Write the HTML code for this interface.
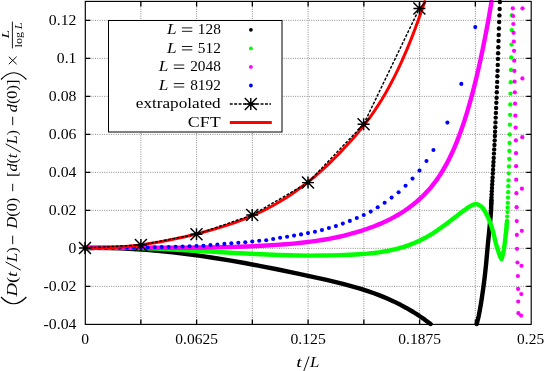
<!DOCTYPE html>
<html><head><meta charset="utf-8"><title>plot</title>
<style>html,body{margin:0;padding:0;background:#fff}svg{display:block;will-change:transform}</style>
</head><body>
<svg width="545" height="371" viewBox="0 0 545 371">
<rect width="545" height="371" fill="#fff"/>
<defs><clipPath id="c"><rect x="82.9" y="-1" width="450.7" height="327.8"/></clipPath></defs>
<g stroke="#8c8c8c" stroke-width="1" stroke-dasharray="1 1.3" fill="none">
<path d="M140.85 1.9 V324.4"/>
<path d="M196.6 1.9 V324.4"/>
<path d="M252.35 1.9 V324.4"/>
<path d="M308.1 1.9 V324.4"/>
<path d="M363.85 1.9 V324.4"/>
<path d="M419.6 1.9 V324.4"/>
<path d="M475.35 1.9 V324.4"/>
<path d="M85.8 286.35 H531.2"/>
<path d="M85.8 248.35 H531.2"/>
<path d="M85.8 210.35 H531.2"/>
<path d="M85.8 172.35 H531.2"/>
<path d="M85.8 134.35 H531.2"/>
<path d="M85.8 96.35 H531.2"/>
<path d="M85.8 58.35 H531.2"/>
<path d="M85.8 20.35 H531.2"/>
</g>
<g clip-path="url(#c)" fill="none" stroke-linecap="round" stroke-linejoin="round">
<path d="M85 248 L96.56 247.9 L109.27 248.05 L120.83 248.4 L133.55 249.03 L146.26 249.89 L160.13 251.08 L172.84 252.38 L186.72 254.03 L200.59 255.89 L214.46 257.95 L229.48 260.39 L244.51 263.03 L260.69 266.06 L276.87 269.26 L294.21 272.86 L312.7 276.86 L326.57 279.95 L335.82 282.1 L343.91 284.1 L352 286.26 L360.09 288.61 L367.03 290.82 L373.96 293.23 L380.9 295.87 L387.83 298.77 L393.61 301.4 L400.55 304.83 L406.33 307.95 L413.26 312.01 L419.04 315.69 L424.82 319.65 L430.6 323.9" stroke="#000" stroke-width="4.4"/>
<path d="M491.41 200 L491.08 209.42 L490.67 215.7 L489.49 228.25 L487.91 243.95 L486.07 264.35 L484.9 275.34 L484.13 281.62 L483.07 289.47 L481.71 298.89 L480.71 305.16 L479.59 311.44 L478.66 316.15 L477.92 319.29 L476.7 324" stroke="#000" stroke-width="4.4"/>
<g fill="#000" stroke="none">
<circle cx="499.9" cy="2" r="2.2"/>
<circle cx="499.64" cy="9" r="2.2"/>
<circle cx="499.4" cy="15.4" r="2.2"/>
<circle cx="499.16" cy="22" r="2.2"/>
<circle cx="498.93" cy="28.5" r="2.2"/>
<circle cx="498.7" cy="35" r="2.2"/>
<circle cx="498.5" cy="41" r="2.2"/>
<circle cx="498.3" cy="47.3" r="2.2"/>
<circle cx="498.11" cy="53.3" r="2.2"/>
<circle cx="497.94" cy="58.9" r="2.2"/>
<circle cx="497.76" cy="64.9" r="2.2"/>
<circle cx="497.58" cy="70.7" r="2.2"/>
<circle cx="497.39" cy="76.2" r="2.2"/>
<circle cx="497.19" cy="81.9" r="2.2"/>
<circle cx="496.99" cy="87.1" r="2.2"/>
<circle cx="496.79" cy="92.2" r="2.2"/>
<circle cx="496.57" cy="97.7" r="2.2"/>
<circle cx="496.35" cy="102.8" r="2.2"/>
<circle cx="496.12" cy="108" r="2.2"/>
<circle cx="495.9" cy="112.9" r="2.2"/>
<circle cx="495.69" cy="117.6" r="2.2"/>
<circle cx="495.48" cy="122.4" r="2.2"/>
<circle cx="495.28" cy="127.2" r="2.2"/>
<circle cx="495.09" cy="131.7" r="2.2"/>
<circle cx="494.9" cy="136" r="2.2"/>
<circle cx="494.68" cy="140.5" r="2.2"/>
<circle cx="494.43" cy="145" r="2.2"/>
<circle cx="494.19" cy="149.4" r="2.2"/>
<circle cx="493.95" cy="153.6" r="2.2"/>
<circle cx="493.71" cy="157.9" r="2.2"/>
<circle cx="493.48" cy="162" r="2.2"/>
<circle cx="493.26" cy="165.8" r="2.2"/>
<circle cx="493.04" cy="169.7" r="2.2"/>
<circle cx="492.83" cy="173.5" r="2.2"/>
<circle cx="492.6" cy="177.4" r="2.2"/>
<circle cx="492.4" cy="181" r="2.2"/>
<circle cx="492.19" cy="184.5" r="2.2"/>
<circle cx="491.99" cy="187.9" r="2.2"/>
<circle cx="491.79" cy="191.2" r="2.2"/>
<circle cx="491.63" cy="194.4" r="2.2"/>
<circle cx="491.5" cy="197.5" r="2.2"/>
<circle cx="491.39" cy="200.5" r="2.2"/>
<circle cx="491.3" cy="203.4" r="2.2"/>
</g>
<path d="M85 248 L99.37 247.68 L113.74 247.63 L129.42 247.82 L146.4 248.29 L160.77 248.86 L177.75 249.68 L235.23 252.96 L256.13 254.04 L278.34 254.95 L288.79 255.26 L297.94 255.45 L309.69 255.58 L320.14 255.56 L330.59 255.42 L339.74 255.16 L350.19 254.73 L359.33 254.21 L367.17 253.61 L373.7 252.96 L380.24 252.11 L386.77 251.03 L393.3 249.68 L398.53 248.38 L403.75 246.85 L408.98 245.08 L414.2 243.04 L419.43 240.72 L424.65 238.08 L428.57 235.89 L432.49 233.51 L437.72 230.05 L441.63 227.3 L445.55 224.44 L463.84 210.61 L466.46 208.69 L469.07 206.91 L471.68 205.4 L472.99 204.8 L474.29 204.33 L475.6 204 L476.92 204.18 L477.8 204.48 L478.68 204.89 L480.89 206.25 L481.77 206.89 L482.21 207.32 L483.09 208.42 L484.41 210.5 L486.62 214.52 L487.5 216.26 L488.38 218.2 L489.7 221.44 L491.02 225.08 L491.91 227.81 L492.79 230.8 L494.11 235.74 L495.43 241.72 L495.87 243.42 L497.19 247.97 L498.96 253.4 L499.84 255.95 L500.28 256.96 L501.16 258.46 L501.6 259 L502.46 256.15 L502.94 254.26 L503.68 250.46 L504.27 246.67 L505.28 239.08 L505.95 233.38 L506.49 227.69 L506.9 222" stroke="#00ff00" stroke-width="4.4"/>
<g fill="#00ff00" stroke="none">
<circle cx="511.9" cy="15.2" r="2.15"/>
<circle cx="511.73" cy="30.2" r="2.15"/>
<circle cx="511.5" cy="44.6" r="2.15"/>
<circle cx="511.2" cy="57.5" r="2.15"/>
<circle cx="510.94" cy="70" r="2.15"/>
<circle cx="510.7" cy="82.2" r="2.15"/>
<circle cx="510.49" cy="93.6" r="2.15"/>
<circle cx="510.3" cy="104.5" r="2.15"/>
<circle cx="510.1" cy="114.8" r="2.15"/>
<circle cx="509.9" cy="124.7" r="2.15"/>
<circle cx="509.7" cy="134.5" r="2.15"/>
<circle cx="509.54" cy="143" r="2.15"/>
<circle cx="509.38" cy="151" r="2.15"/>
<circle cx="509.2" cy="159" r="2.15"/>
<circle cx="508.98" cy="166.5" r="2.15"/>
<circle cx="508.74" cy="173.3" r="2.15"/>
<circle cx="508.51" cy="180.3" r="2.15"/>
<circle cx="508.33" cy="186.2" r="2.15"/>
<circle cx="508.16" cy="192.2" r="2.15"/>
<circle cx="507.99" cy="197.6" r="2.15"/>
<circle cx="507.8" cy="202.9" r="2.15"/>
<circle cx="507.62" cy="207.6" r="2.15"/>
<circle cx="507.42" cy="212.1" r="2.15"/>
<circle cx="507.2" cy="216.6" r="2.15"/>
<circle cx="506.97" cy="220.8" r="2.15"/>
<circle cx="506.72" cy="224.7" r="2.15"/>
<circle cx="506.43" cy="228.4" r="2.15"/>
<circle cx="506.1" cy="231.9" r="2.15"/>
<circle cx="505.74" cy="235.2" r="2.15"/>
</g>
<path d="M85 248 L113.27 247.81 L164.92 247.8 L185.04 247.74 L205.7 247.54 L224.19 247.2 L235.33 246.89 L246.21 246.51 L256.54 246.06 L266.59 245.53 L276.38 244.92 L285.35 244.28 L293.51 243.58 L301.39 242.79 L309 241.9 L316.34 240.9 L323.41 239.79 L330.21 238.57 L336.73 237.26 L343.26 235.78 L349.51 234.2 L355.76 232.45 L362.01 230.53 L367.99 228.5 L374.25 226.2 L379.95 223.9 L385.39 221.5 L390.29 219.13 L394.91 216.68 L399.53 214 L403.88 211.24 L408.23 208.24 L412.58 204.96 L416.65 201.62 L420.73 198.01 L424.54 194.34 L428.07 190.61 L431.33 186.85 L434.6 182.73 L437.59 178.61 L440.58 174.12 L443.3 169.7 L446.29 164.41 L449 159.2 L451.72 153.58 L454.17 148.13 L456.89 141.61 L459.33 135.31 L461.78 128.57 L464.23 121.35 L466.67 113.65 L469.12 105.43 L471.57 96.67 L473.74 88.4 L476.19 78.55 L478.36 69.28 L480.54 59.5 L482.71 49.21 L484.89 38.38 L487.06 27 L489.24 15.05 L491.55 1.7" stroke="#ff00ff" stroke-width="4.4"/>
<g fill="#ff00ff" stroke="none">
<circle cx="512.81" cy="8.3" r="2.1"/>
<circle cx="513.08" cy="16" r="2.1"/>
<circle cx="513.33" cy="24" r="2.1"/>
<circle cx="513.59" cy="32.8" r="2.1"/>
<circle cx="513.81" cy="41.5" r="2.1"/>
<circle cx="514.01" cy="50.8" r="2.1"/>
<circle cx="514.21" cy="60.7" r="2.1"/>
<circle cx="514.4" cy="70.9" r="2.1"/>
<circle cx="514.6" cy="81.6" r="2.1"/>
<circle cx="514.81" cy="92.3" r="2.1"/>
<circle cx="515.04" cy="103.7" r="2.1"/>
<circle cx="515.29" cy="115.7" r="2.1"/>
<circle cx="515.62" cy="127.6" r="2.1"/>
<circle cx="515.9" cy="140.4" r="2.1"/>
<circle cx="516.02" cy="153.2" r="2.1"/>
<circle cx="516.09" cy="166.2" r="2.1"/>
<circle cx="516.2" cy="179.7" r="2.1"/>
<circle cx="516.39" cy="193.2" r="2.1"/>
<circle cx="516.6" cy="207.2" r="2.1"/>
<circle cx="516.73" cy="221.1" r="2.1"/>
<circle cx="516.84" cy="234.9" r="2.1"/>
<circle cx="517" cy="248.8" r="2.1"/>
<circle cx="517.44" cy="262.5" r="2.1"/>
<circle cx="517.9" cy="276" r="2.1"/>
<circle cx="518.07" cy="288.9" r="2.1"/>
<circle cx="518.21" cy="301.5" r="2.1"/>
<circle cx="518.39" cy="313.2" r="2.1"/>
<circle cx="522.5" cy="8.3" r="2.1"/>
<circle cx="522.4" cy="78.4" r="2.1"/>
<circle cx="522.3" cy="137.2" r="2.1"/>
<circle cx="521.9" cy="188.7" r="2.1"/>
<circle cx="521.8" cy="230.8" r="2.1"/>
<circle cx="521.5" cy="265.8" r="2.1"/>
<circle cx="521.3" cy="294.1" r="2.1"/>
<circle cx="521.1" cy="315.6" r="2.1"/>
</g>
<g fill="#0000ff" stroke="none">
<circle cx="85" cy="248" r="2.05"/>
<circle cx="91.97" cy="248" r="2.05"/>
<circle cx="98.94" cy="247.98" r="2.05"/>
<circle cx="105.91" cy="247.95" r="2.05"/>
<circle cx="112.88" cy="247.9" r="2.05"/>
<circle cx="119.84" cy="247.84" r="2.05"/>
<circle cx="126.81" cy="247.77" r="2.05"/>
<circle cx="133.78" cy="247.67" r="2.05"/>
<circle cx="140.75" cy="247.56" r="2.05"/>
<circle cx="147.72" cy="247.43" r="2.05"/>
<circle cx="154.69" cy="247.28" r="2.05"/>
<circle cx="161.66" cy="247.12" r="2.05"/>
<circle cx="168.62" cy="246.93" r="2.05"/>
<circle cx="175.59" cy="246.73" r="2.05"/>
<circle cx="182.56" cy="246.5" r="2.05"/>
<circle cx="189.53" cy="246.25" r="2.05"/>
<circle cx="196.5" cy="245.99" r="2.05"/>
<circle cx="203.47" cy="245.7" r="2.05"/>
<circle cx="210.44" cy="245" r="2.05"/>
<circle cx="217.41" cy="244.5" r="2.05"/>
<circle cx="224.38" cy="243.9" r="2.05"/>
<circle cx="231.34" cy="243.3" r="2.05"/>
<circle cx="238.31" cy="242.8" r="2.05"/>
<circle cx="245.28" cy="242.2" r="2.05"/>
<circle cx="252.25" cy="241.5" r="2.05"/>
<circle cx="259.22" cy="240.8" r="2.05"/>
<circle cx="266.19" cy="240.2" r="2.05"/>
<circle cx="273.16" cy="239" r="2.05"/>
<circle cx="280.12" cy="237.8" r="2.05"/>
<circle cx="287.09" cy="236.7" r="2.05"/>
<circle cx="294.06" cy="235.6" r="2.05"/>
<circle cx="301.03" cy="234.4" r="2.05"/>
<circle cx="308" cy="233.1" r="2.05"/>
<circle cx="314.97" cy="231.7" r="2.05"/>
<circle cx="321.94" cy="230.1" r="2.05"/>
<circle cx="328.91" cy="228" r="2.05"/>
<circle cx="335.88" cy="226.1" r="2.05"/>
<circle cx="342.84" cy="223.6" r="2.05"/>
<circle cx="349.81" cy="220.9" r="2.05"/>
<circle cx="356.78" cy="218" r="2.05"/>
<circle cx="363.75" cy="215" r="2.05"/>
<circle cx="370.72" cy="211.6" r="2.05"/>
<circle cx="377.69" cy="207.3" r="2.05"/>
<circle cx="384.66" cy="202.8" r="2.05"/>
<circle cx="391.62" cy="197.6" r="2.05"/>
<circle cx="398.59" cy="192.2" r="2.05"/>
<circle cx="405.56" cy="185.8" r="2.05"/>
<circle cx="412.53" cy="178.6" r="2.05"/>
<circle cx="419.5" cy="170.6" r="2.05"/>
<circle cx="426.47" cy="161" r="2.05"/>
<circle cx="433.44" cy="150" r="2.05"/>
<circle cx="447.38" cy="122.6" r="2.05"/>
<circle cx="461.31" cy="83.9" r="2.05"/>
<circle cx="475.25" cy="27.1" r="2.05"/>
</g>
<path d="M85 248 L92.16 248.11 L99.32 248.05 L106.48 247.84 L113.64 247.47 L120.8 246.96 L128.3 246.28 L135.8 245.44 L143.64 244.41 L151.48 243.24 L159.33 241.92 L167.17 240.47 L175.35 238.82 L183.87 236.95 L192.4 234.96 L201.26 232.74 L209.44 230.57 L216.26 228.63 L222.74 226.66 L228.88 224.67 L235.01 222.55 L240.81 220.4 L246.61 218.11 L252.4 215.66 L257.86 213.2 L263.31 210.58 L268.43 207.98 L273.54 205.21 L278.65 202.28 L283.77 199.19 L288.88 195.92 L294 192.48 L298.77 189.09 L303.88 185.29 L309 181.28 L314.11 177.08 L318.89 172.97 L324 168.37 L329.11 163.56 L334.23 158.55 L339.34 153.34 L344.8 147.58 L350.25 141.59 L355.03 136.16 L359.46 130.89 L363.55 125.79 L367.64 120.44 L371.39 115.29 L375.14 109.86 L378.55 104.66 L381.96 99.19 L385.37 93.44 L388.44 88 L391.51 82.3 L394.57 76.32 L397.64 70.07 L400.71 63.54 L403.78 56.71 L406.85 49.58 L409.92 42.14 L412.99 34.38 L416.05 26.3 L418.78 18.84 L421.85 10.12 L424.71 1.7" stroke="#ff0000" stroke-width="3"/>
</g>
<path d="M85 248 L140.9 244.9 L196.5 234.3 L252.2 215 L308 182.6 L363.6 124.3 L419.4 8.4" fill="none" stroke="#000" stroke-width="1.45" stroke-dasharray="2.9 1.5"/>
<g>
<path d="M79 248H91 M85 242V254 M79 242L91 254 M79 254L91 242" stroke="#000" stroke-width="1.45" fill="none"/>
<path d="M134.9 244.9H146.9 M140.9 238.9V250.9 M134.9 238.9L146.9 250.9 M134.9 250.9L146.9 238.9" stroke="#000" stroke-width="1.45" fill="none"/>
<path d="M190.5 234.3H202.5 M196.5 228.3V240.3 M190.5 228.3L202.5 240.3 M190.5 240.3L202.5 228.3" stroke="#000" stroke-width="1.45" fill="none"/>
<path d="M246.2 215H258.2 M252.2 209V221 M246.2 209L258.2 221 M246.2 221L258.2 209" stroke="#000" stroke-width="1.45" fill="none"/>
<path d="M302 182.6H314 M308 176.6V188.6 M302 176.6L314 188.6 M302 188.6L314 176.6" stroke="#000" stroke-width="1.45" fill="none"/>
<path d="M357.6 124.3H369.6 M363.6 118.3V130.3 M357.6 118.3L369.6 130.3 M357.6 130.3L369.6 118.3" stroke="#000" stroke-width="1.45" fill="none"/>
<path d="M413.4 8.4H425.4 M419.4 2.4V14.4 M413.4 2.4L425.4 14.4 M413.4 14.4L425.4 2.4" stroke="#000" stroke-width="1.45" fill="none"/>
</g>
<rect x="85.3" y="1.4" width="445.9" height="323" fill="none" stroke="#000" stroke-width="1.15"/>
<g stroke="#000" stroke-width="1.3">
<path d="M140.85 324.4v-5 M140.85 1.4v5"/>
<path d="M196.6 324.4v-5 M196.6 1.4v5"/>
<path d="M252.35 324.4v-5 M252.35 1.4v5"/>
<path d="M308.1 324.4v-5 M308.1 1.4v5"/>
<path d="M363.85 324.4v-5 M363.85 1.4v5"/>
<path d="M419.6 324.4v-5 M419.6 1.4v5"/>
<path d="M475.35 324.4v-5 M475.35 1.4v5"/>
<path d="M85.3 286.35h5 M531.2 286.35h-5"/>
<path d="M85.3 248.35h5 M531.2 248.35h-5"/>
<path d="M85.3 210.35h5 M531.2 210.35h-5"/>
<path d="M85.3 172.35h5 M531.2 172.35h-5"/>
<path d="M85.3 134.35h5 M531.2 134.35h-5"/>
<path d="M85.3 96.35h5 M531.2 96.35h-5"/>
<path d="M85.3 58.35h5 M531.2 58.35h-5"/>
<path d="M85.3 20.35h5 M531.2 20.35h-5"/>
</g>
<rect x="108.5" y="20.5" width="173.5" height="111.5" fill="#fff" stroke="#000" stroke-width="1"/>
<g font-family="Liberation Serif, serif" font-size="15.2" fill="#000">
<text x="197.8" y="34" textLength="23" lengthAdjust="spacingAndGlyphs">128</text>
<path d="M181.9 27.9h10.4 M181.9 31.3h10.4" stroke="#000" stroke-width="0.9" fill="none"/>
<text x="166.9" y="34" textLength="9.6" lengthAdjust="spacingAndGlyphs"><tspan font-style="italic">L</tspan></text>
<circle cx="250.9" cy="29.8" r="1.9" fill="#000"/>
<text x="197.8" y="52.6" textLength="23" lengthAdjust="spacingAndGlyphs">512</text>
<path d="M181.9 46.5h10.4 M181.9 49.9h10.4" stroke="#000" stroke-width="0.9" fill="none"/>
<text x="166.9" y="52.6" textLength="9.6" lengthAdjust="spacingAndGlyphs"><tspan font-style="italic">L</tspan></text>
<circle cx="250.9" cy="48.4" r="1.9" fill="#00ff00"/>
<text x="190.2" y="71.1" textLength="30.6" lengthAdjust="spacingAndGlyphs">2048</text>
<path d="M173.8 65h10.4 M173.8 68.4h10.4" stroke="#000" stroke-width="0.9" fill="none"/>
<text x="158.8" y="71.1" textLength="9.6" lengthAdjust="spacingAndGlyphs"><tspan font-style="italic">L</tspan></text>
<circle cx="250.9" cy="66.9" r="1.9" fill="#ff00ff"/>
<text x="190.2" y="89.7" textLength="30.6" lengthAdjust="spacingAndGlyphs">8192</text>
<path d="M173.8 83.6h10.4 M173.8 87h10.4" stroke="#000" stroke-width="0.9" fill="none"/>
<text x="158.8" y="89.7" textLength="9.6" lengthAdjust="spacingAndGlyphs"><tspan font-style="italic">L</tspan></text>
<circle cx="250.9" cy="85.5" r="1.9" fill="#0000ff"/>
<text x="135.8" y="108" textLength="84.8" lengthAdjust="spacingAndGlyphs">extrapolated</text>
<text x="187.8" y="127.1" textLength="32.8" lengthAdjust="spacingAndGlyphs">CFT</text>
</g>
<path d="M229.8 104H271" stroke="#000" stroke-width="1.45" stroke-dasharray="2.9 1.5" fill="none"/>
<path d="M244.8 104H256.8 M250.8 98V110 M244.8 98L256.8 110 M244.8 110L256.8 98" stroke="#000" stroke-width="1.45" fill="none"/>
<path d="M229.8 122.6H271.8" stroke="#ff0000" stroke-width="3" fill="none"/>
<g font-family="Liberation Serif, serif" font-size="15.2" fill="#000">
<text x="43.6" y="329.15" textLength="32.8" lengthAdjust="spacingAndGlyphs">-0.04</text>
<text x="43.6" y="291.15" textLength="32.8" lengthAdjust="spacingAndGlyphs">-0.02</text>
<text x="68.6" y="253.15" textLength="7.8" lengthAdjust="spacingAndGlyphs">0</text>
<text x="48.8" y="215.15" textLength="27.6" lengthAdjust="spacingAndGlyphs">0.02</text>
<text x="48.8" y="177.15" textLength="27.6" lengthAdjust="spacingAndGlyphs">0.04</text>
<text x="48.8" y="139.15" textLength="27.6" lengthAdjust="spacingAndGlyphs">0.06</text>
<text x="48.8" y="101.15" textLength="27.6" lengthAdjust="spacingAndGlyphs">0.08</text>
<text x="56.8" y="63.15" textLength="19.6" lengthAdjust="spacingAndGlyphs">0.1</text>
<text x="48.8" y="25.15" textLength="27.6" lengthAdjust="spacingAndGlyphs">0.12</text>
<text x="81.2" y="344" textLength="7.8" lengthAdjust="spacingAndGlyphs">0</text>
<text x="175.3" y="344" textLength="42.6" lengthAdjust="spacingAndGlyphs">0.0625</text>
<text x="290.4" y="344" textLength="35.4" lengthAdjust="spacingAndGlyphs">0.125</text>
<text x="398.3" y="344" textLength="42.6" lengthAdjust="spacingAndGlyphs">0.1875</text>
<text x="517.1" y="344" textLength="27" lengthAdjust="spacingAndGlyphs">0.25</text>
<text x="296.3" y="367.3" textLength="5.6" lengthAdjust="spacingAndGlyphs"><tspan font-style="italic">t</tspan></text>
<text x="310.1" y="367.3" textLength="9.4" lengthAdjust="spacingAndGlyphs"><tspan font-style="italic">L</tspan></text>
<path d="M303.7 371.3L309.1 356.4" stroke="#000" stroke-width="0.95" fill="none"/>
</g>
<g transform="translate(17 0) rotate(-90)" font-family="Liberation Serif, serif" font-size="15.2" fill="#000">
<text x="-296.6" y="0" textLength="24.9" lengthAdjust="spacingAndGlyphs"><tspan font-style="italic">D</tspan>(<tspan font-style="italic">t</tspan></text>
<text x="-262" y="0" textLength="14.7" lengthAdjust="spacingAndGlyphs"><tspan font-style="italic">L</tspan>)</text>
<text x="-228.5" y="0" textLength="30.8" lengthAdjust="spacingAndGlyphs"><tspan font-style="italic">D</tspan>(0)</text>
<text x="-177" y="0" textLength="23.3" lengthAdjust="spacingAndGlyphs">[<tspan font-style="italic">d</tspan>(<tspan font-style="italic">t</tspan></text>
<text x="-143.9" y="0" textLength="13.8" lengthAdjust="spacingAndGlyphs"><tspan font-style="italic">L</tspan>)</text>
<text x="-112.3" y="0" textLength="32.8" lengthAdjust="spacingAndGlyphs"><tspan font-style="italic">d</tspan>(0)]</text>
<g stroke="#000" stroke-width="0.95" fill="none">
<path d="M-244.2 -4.3H-235.7"/>
<path d="M-191.3 -4.3H-183.8"/>
<path d="M-125.2 -4.3H-116.7"/>
<path d="M-64.2 -8.2L-56.7 -0.4 M-64.2 -0.4L-56.7 -8.2"/>
<path d="M-270.1 3.7L-261.9 -11.4 M-152.0 3.7L-143.8 -11.4"/>
<path d="M-297 -16 Q-310.5 -3.3 -297 9.4" stroke-width="1.15"/>
<path d="M-79.5 -16 Q-66 -3.3 -79.5 9.4" stroke-width="1.15"/>
<path d="M-48.4 -4.6H-21.6" stroke-width="0.9"/>
</g>
<g font-size="11">
<text x="-38.6" y="-7.6" textLength="8.6" lengthAdjust="spacingAndGlyphs"><tspan font-style="italic">L</tspan></text>
<text x="-47.4" y="4.6" textLength="24.8" lengthAdjust="spacingAndGlyphs">log&#8201;<tspan font-style="italic">L</tspan></text>
</g>
</g>
</svg>
</body></html>
